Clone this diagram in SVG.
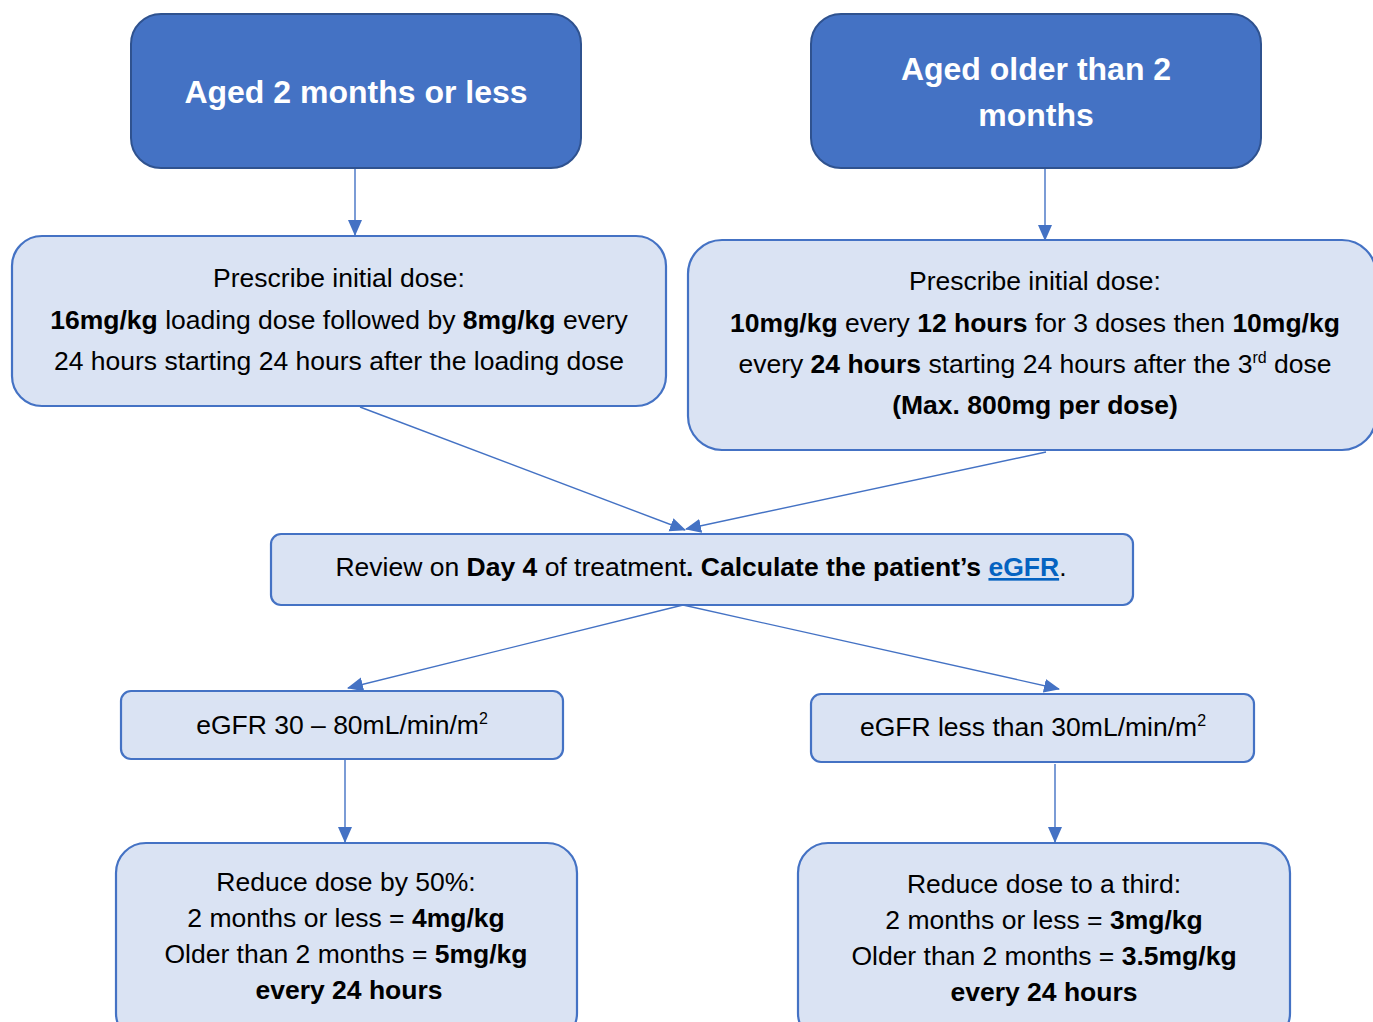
<svg xmlns="http://www.w3.org/2000/svg" width="1373" height="1022" viewBox="0 0 1373 1022">
  <style>
    .head { fill: #4472C4; stroke: #2F528F; stroke-width: 2; }
    .step { fill: #DAE3F3; stroke: #4472C4; stroke-width: 2.2; }
    .ht { font-family: "Liberation Sans", Arial, sans-serif; font-size: 32px; font-weight: bold; fill: #FFFFFF; text-anchor: middle; }
    .t { font-family: "Liberation Sans", Arial, sans-serif; font-size: 26.5px; fill: #000000; text-anchor: middle; }
    .b { font-weight: bold; }
    .sup { font-size: 16px; }
    .link { fill: #0563C1; font-weight: bold; text-decoration: underline; }
    .conn { stroke: #4472C4; stroke-width: 1.4; fill: none; marker-end: url(#arrow); }
  </style>
  <defs>
    <marker id="arrow" markerUnits="userSpaceOnUse" markerWidth="16" markerHeight="16" viewBox="0 0 16 16" refX="15" refY="8" orient="auto">
      <path d="M0,1 L16,8 L0,15 Z" fill="#4472C4"/>
    </marker>
  </defs>
  <rect width="1373" height="1022" fill="#FFFFFF"/>

  <!-- connectors -->
  <g id="connectors">
    <line class="conn" x1="355" y1="169" x2="355" y2="235"/>
    <line class="conn" x1="1045" y1="169" x2="1045" y2="240"/>
    <line class="conn" x1="360" y1="407" x2="685" y2="530"/>
    <line class="conn" x1="1046" y1="452" x2="686" y2="529"/>
    <line class="conn" x1="683" y1="605" x2="348" y2="688"/>
    <line class="conn" x1="683" y1="605" x2="1059" y2="689"/>
    <line class="conn" x1="345" y1="760" x2="345" y2="842"/>
    <line class="conn" x1="1055" y1="764" x2="1055" y2="842"/>
  </g>

  <g id="age-young">
    <rect class="head" x="131" y="14" width="450" height="154" rx="30"/>
    <text class="ht" x="356" y="103">Aged 2 months or less</text>
  </g>

  <g id="age-older">
    <rect class="head" x="811" y="14" width="450" height="154" rx="30"/>
    <text class="ht" x="1036" y="80">Aged older than 2</text>
    <text class="ht" x="1036" y="126">months</text>
  </g>

  <g id="dose-young">
    <rect class="step" x="12" y="236" width="654" height="170" rx="30"/>
    <text class="t" x="339" y="287">Prescribe initial dose:</text>
    <text class="t" x="339" y="329"><tspan class="b">16mg/kg</tspan> loading dose followed by <tspan class="b">8mg/kg</tspan> every</text>
    <text class="t" x="339" y="370">24 hours starting 24 hours after the loading dose</text>
  </g>

  <g id="dose-older">
    <rect class="step" x="688" y="240" width="688" height="210" rx="34"/>
    <text class="t" x="1035" y="290">Prescribe initial dose:</text>
    <text class="t" x="1035" y="332"><tspan class="b">10mg/kg</tspan> every <tspan class="b">12 hours</tspan> for 3 doses then <tspan class="b">10mg/kg</tspan></text>
    <text class="t" x="1035" y="373">every <tspan class="b">24 hours</tspan> starting 24 hours after the 3<tspan class="sup" dy="-10">rd</tspan><tspan dy="10"> dose</tspan></text>
    <text class="t b" x="1035" y="414">(Max. 800mg per dose)</text>
  </g>

  <g id="review">
    <rect class="step" x="271" y="534" width="862" height="71" rx="10"/>
    <text class="t" x="701" y="576">Review on <tspan class="b">Day 4</tspan> of treatment<tspan class="b">. Calculate the patient’s </tspan><tspan class="link">eGFR</tspan>.</text>
  </g>

  <g id="egfr-mid">
    <rect class="step" x="121" y="691" width="442" height="68" rx="10"/>
    <text class="t" x="342" y="734">eGFR 30 – 80mL/min/m<tspan class="sup" dy="-10">2</tspan></text>
  </g>

  <g id="egfr-low">
    <rect class="step" x="811" y="694" width="443" height="68" rx="10"/>
    <text class="t" x="1033" y="736">eGFR less than 30mL/min/m<tspan class="sup" dy="-10">2</tspan></text>
  </g>

  <g id="reduce-half">
    <rect class="step" x="116" y="843" width="461" height="200" rx="30"/>
    <text class="t" x="346" y="891">Reduce dose by 50%:</text>
    <text class="t" x="346" y="927">2 months or less = <tspan class="b">4mg/kg</tspan></text>
    <text class="t" x="346" y="963">Older than 2 months = <tspan class="b">5mg/kg</tspan></text>
    <text class="t b" x="349" y="999">every 24 hours</text>
  </g>

  <g id="reduce-third">
    <rect class="step" x="798" y="843" width="492" height="200" rx="30"/>
    <text class="t" x="1044" y="893">Reduce dose to a third:</text>
    <text class="t" x="1044" y="929">2 months or less = <tspan class="b">3mg/kg</tspan></text>
    <text class="t" x="1044" y="965">Older than 2 months = <tspan class="b">3.5mg/kg</tspan></text>
    <text class="t b" x="1044" y="1001">every 24 hours</text>
  </g>
</svg>
